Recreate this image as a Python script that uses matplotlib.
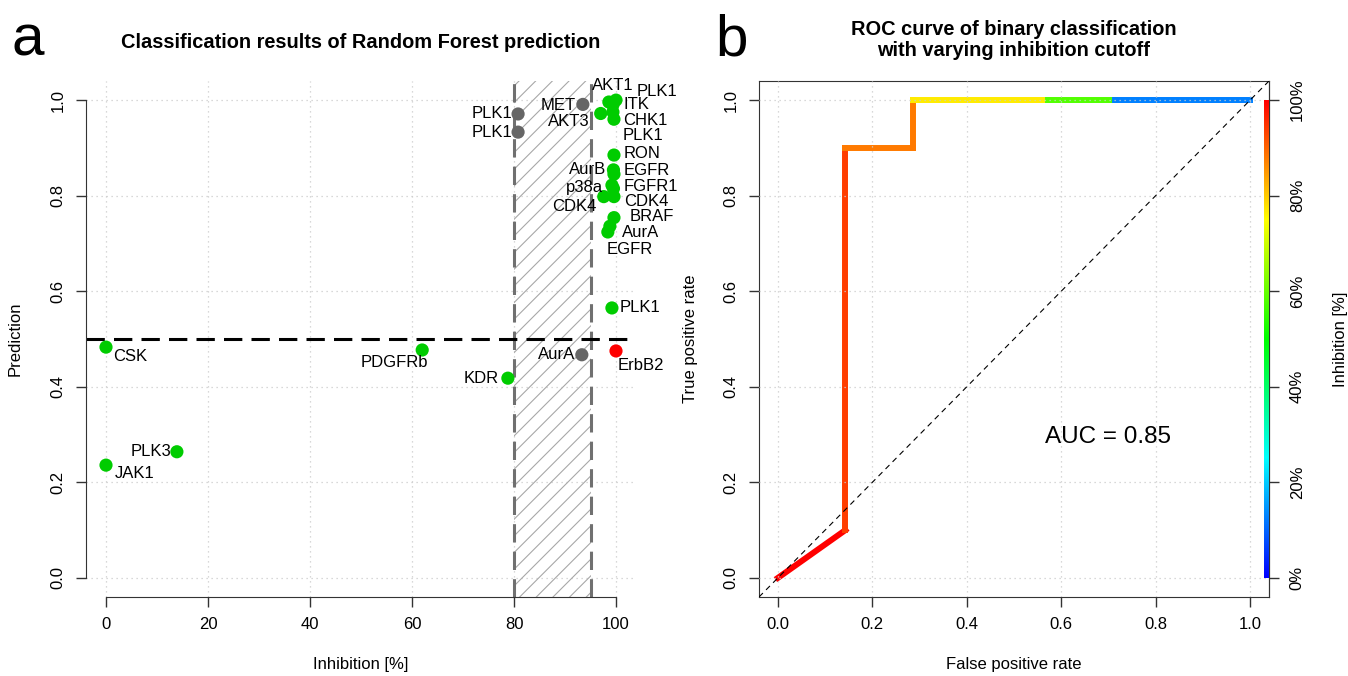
import numpy as np
import matplotlib
matplotlib.use("Agg")
import matplotlib.pyplot as plt
import matplotlib.colors as mcolors

plt.rcParams['font.family'] = ['Liberation Sans', 'DejaVu Sans']
plt.rcParams['hatch.linewidth'] = 0.8

# -----------------------------
# PANEL A DATA
# -----------------------------
kinase = ["CSK", "JAK1", "PLK3", "PDGFRb", "KDR", "AurA", "ErbB2", "PLK1",
          "PLK1", "PLK1", "MET", "AKT1", "PLK1", "ITK", "AKT3", "CHK1", "PLK1",
          "RON", "AurB", "EGFR", "p38a", "FGFR1", "CDK4", "CDK4", "BRAF",
          "AurA", "EGFR"]
inhibition = [0, 0, 13.9, 62, 78.8, 93.3, 100, 99.2,
              80.8, 80.8, 93.5, 98.6, 100, 99.4, 97.0, 99.6, 99.4,
              99.6, 99.5, 99.6, 99.2, 99.5, 99.6, 97.6, 99.6,
              98.8, 98.4]
prediction = [0.483, 0.236, 0.264, 0.477, 0.418, 0.467, 0.475, 0.565,
              0.971, 0.933, 0.991, 0.996, 1.0, 0.99, 0.972, 0.96, 0.975,
              0.885, 0.854, 0.845, 0.822, 0.815, 0.798, 0.798, 0.754,
              0.736, 0.724]
outcome = ["ok", "ok", "ok", "ok", "ok", "unsure", "wrong", "ok",
           "unsure", "unsure", "unsure", "ok", "ok", "ok", "ok", "ok", "ok",
           "ok", "ok", "ok", "ok", "ok", "ok", "ok", "ok",
           "ok", "ok"]

# label placement (pixel offsets from the point, alignment)
label_pos = [(7, -9, "left"), (9, -8, "left"), (-6, 0, "right"), (6, -13, "right"),
             (-9, 0, "right"), (-7, 0, "right"), (2, -15, "left"), (8, 0, "left"),
             (-6, 0, "right"), (-6, 0, "right"), (-7, -1, "right"), (4, 17, "center"),
             (21, 9, "left"), (11, 0, "left"), (-11, -8, "right"), (9, -1, "left"),
             (10, -23, "left"), (10, 2, "left"), (-7, 0, "right"), (10, 4, "left"),
             (-9, -2, "right"), (10, 2, "left"), (10, -5, "left"), (-7, -10, "right"),
             (16, 1, "left"), (12, -6, "left"), (22, -18, "center")]

colors = {"ok": "#00CC00", "unsure": "#666666", "wrong": "#FF0000"}

# -----------------------------
# PANEL B DATA (ROC)
# -----------------------------
fpr = [0, 1/7, 1/7, 2/7, 2/7, 4/7, 5/7, 1.0]
tpr = [0, 0.1, 0.9, 0.9, 1.0, 1.0, 1.0, 1.0]
seg_cutoff = [1.0, 0.94, 0.88, 0.88, 0.77, 0.58, 0.125]
auc = 0.85


def rainbow(v):
    return mcolors.hsv_to_rgb([(1 - v) * 240 / 360, 1, 1])


cmap = mcolors.ListedColormap([rainbow(v) for v in np.linspace(0, 1, 256)])

W, H = 1348, 676
fig = plt.figure(figsize=(W / 100, H / 100), dpi=100)
ax1 = fig.add_axes([85.6 / W, 1 - 597 / H, (636.4 - 85.6) / W, 516 / H])
ax2 = fig.add_axes([759 / W, 1 - 597 / H, 510 / W, 516 / H])

grid_kw = dict(color="#cccccc", lw=0.9, linestyle=(0, (1, 3)))
spine_col = "#333333"

# =========================================================
# a. classification results
# =========================================================
for gx in range(0, 101, 20):
    ax1.axvline(gx, zorder=0, **grid_kw)
for gy in np.arange(0, 1.01, 0.2):
    ax1.axhline(gy, zorder=0, **grid_kw)

ax1.axvspan(80, 95, facecolor="none", edgecolor="#a8a8a8", hatch="//", lw=0, zorder=0.5)
ax1.axvline(80, color="#707070", lw=2.2, linestyle=(0, (6, 3)), zorder=1)
ax1.axvline(95, color="#707070", lw=2.2, linestyle=(0, (6, 3)), zorder=1)
ax1.axhline(0.5, color="black", lw=2.2, linestyle=(0, (6, 3)), zorder=1)

ax1.scatter(inhibition, prediction, s=90, c=[colors[o] for o in outcome],
            edgecolors="none", zorder=3)
for name, x, y, (dx, dy, ha) in zip(kinase, inhibition, prediction, label_pos):
    ax1.annotate(name, (x, y), xytext=(dx, dy), textcoords="offset pixels",
                 ha=ha, va="center", fontsize=12, zorder=4)

ax1.set_xlim(-4, 104)
ax1.set_ylim(-0.04, 1.04)
ax1.set_xticks(range(0, 101, 20))
ax1.set_yticks(np.arange(0, 1.01, 0.2))
ax1.set_yticklabels([f"{v:.1f}" for v in np.arange(0, 1.01, 0.2)],
                    rotation=90, va="center")
for side in ["top", "right"]:
    ax1.spines[side].set_visible(False)
ax1.spines["left"].set_bounds(0, 1)
ax1.spines["bottom"].set_bounds(0, 100)
for side in ["left", "bottom"]:
    ax1.spines[side].set_color(spine_col)
ax1.tick_params(direction="out", length=7, width=1, color=spine_col,
                labelsize=12, pad=7.5)

# =========================================================
# b. ROC curve
# =========================================================
for gx in np.arange(0, 1.01, 0.2):
    ax2.axvline(gx, zorder=3, **grid_kw)
for gy in np.arange(0, 1.01, 0.2):
    ax2.axhline(gy, zorder=3, **grid_kw)

ax2.axline((0, 0), (1, 1), color="black", lw=0.8, linestyle=(0, (5, 4)), zorder=4)

for i in range(len(seg_cutoff)):
    ax2.plot(fpr[i:i + 2], tpr[i:i + 2], color=rainbow(seg_cutoff[i]), lw=4.3,
             solid_capstyle="projecting", zorder=2)

grad = np.linspace(0, 1, 256).reshape(-1, 1)
ax2.imshow(grad, cmap=cmap, origin="lower", extent=[1.029, 1.038, 0, 1],
           aspect="auto", zorder=5)

ax2.text(0.70, 0.295, f"AUC = {auc}", fontsize=17.5, ha="center", va="center")

ax2.set_xlim(-0.04, 1.04)
ax2.set_ylim(-0.04, 1.04)
ticks = np.arange(0, 1.01, 0.2)
ax2.set_xticks(ticks)
ax2.set_xticklabels([f"{v:.1f}" for v in ticks])
ax2.set_yticks(ticks)
ax2.set_yticklabels([f"{v:.1f}" for v in ticks], rotation=90, va="center")
for s in ax2.spines.values():
    s.set_color(spine_col)
ax2.tick_params(direction="out", length=7, width=1, color=spine_col,
                labelsize=12, pad=7.5)

sec = ax2.secondary_yaxis("right")
sec.set_yticks(ticks)
sec.set_yticklabels([f"{int(v * 100)}%" for v in ticks], rotation=90, va="center")
sec.tick_params(direction="out", length=7, width=1, color=spine_col,
                labelsize=12, pad=8)
sec.spines["right"].set_color(spine_col)

# -----------------------------
# TEXTS
# -----------------------------
fig.text(12 / W, 1 - 55 / H, "a", fontsize=42, ha="left", va="baseline")
fig.text(715 / W, 1 - 55 / H, "b", fontsize=42, ha="left", va="baseline")
fig.text(361 / W, 1 - 42 / H, "Classification results of Random Forest prediction",
         fontsize=14.4, fontweight="bold", ha="center", va="center")
fig.text(1014 / W, 1 - 40 / H, "ROC curve of binary classification\nwith varying inhibition cutoff",
         fontsize=14.4, fontweight="bold", ha="center", va="center", linespacing=1.15)
fig.text(361 / W, 1 - 665 / H, "Inhibition [%]", fontsize=12, ha="center", va="center")
fig.text(15 / W, 1 - 339 / H, "Prediction", fontsize=12, ha="center", va="center", rotation=90)
fig.text(1014 / W, 1 - 665 / H, "False positive rate", fontsize=12, ha="center", va="center")
fig.text(690 / W, 1 - 339 / H, "True positive rate", fontsize=12, ha="center", va="center", rotation=90)
fig.text(1341 / W, 1 - 339 / H, "Inhibition [%]", fontsize=12, ha="center", va="center", rotation=90)

fig.savefig("out.png", dpi=100)
